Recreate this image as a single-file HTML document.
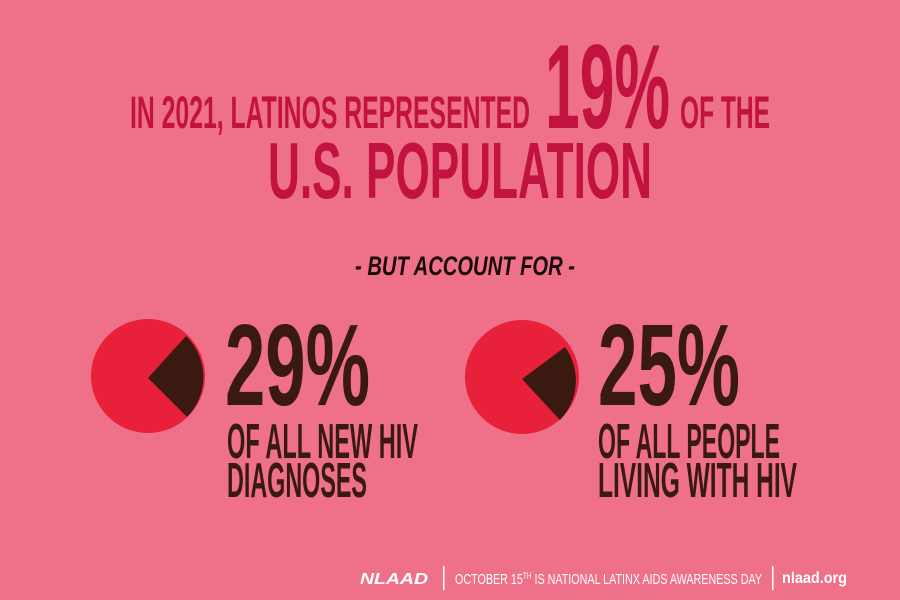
<!DOCTYPE html>
<html><head><meta charset="utf-8"><style>html,body{margin:0;padding:0;background:#ef7089;}svg{display:block}</style></head>
<body>
<svg width="900" height="600" viewBox="0 0 900 600" xmlns="http://www.w3.org/2000/svg">
<rect width="900" height="600" fill="#ef7089"/>
<g font-family="'Liberation Sans Narrow','Liberation Sans',sans-serif" font-weight="bold">
<g fill="#c2123f">
<text x="130" y="128" font-size="45" textLength="400" lengthAdjust="spacingAndGlyphs">IN 2021, LATINOS REPRESENTED</text>
<text x="545" y="128" font-size="120" textLength="125" lengthAdjust="spacingAndGlyphs">19%</text>
<text x="680" y="128" font-size="45" textLength="90" lengthAdjust="spacingAndGlyphs">OF THE</text>
<text x="268" y="198" font-size="80" textLength="384" lengthAdjust="spacingAndGlyphs">U.S. POPULATION</text>
</g>
<text x="355" y="275" font-size="27" font-style="italic" fill="#1a0a0a" textLength="220" lengthAdjust="spacingAndGlyphs">- BUT ACCOUNT FOR -</text>
<g fill="#3a1a10">
<text x="225" y="405" font-size="116" textLength="145" lengthAdjust="spacingAndGlyphs">29%</text>
<text x="227" y="458" font-size="49" textLength="191" lengthAdjust="spacingAndGlyphs">OF ALL NEW HIV</text>
<text x="227" y="497" font-size="49" textLength="140" lengthAdjust="spacingAndGlyphs">DIAGNOSES</text>
<text x="598" y="405" font-size="116" textLength="142" lengthAdjust="spacingAndGlyphs">25%</text>
<text x="598" y="458" font-size="49" textLength="182" lengthAdjust="spacingAndGlyphs">OF ALL PEOPLE</text>
<text x="598" y="497" font-size="49" textLength="199" lengthAdjust="spacingAndGlyphs">LIVING WITH HIV</text>
</g>
</g>
<!-- pies -->
<circle cx="148" cy="376" r="57" fill="#e8203a"/>
<path d="M148 378 L186 336 A57 57 0 0 1 187 417 Z" fill="#3a1a10"/>
<circle cx="522" cy="377" r="57" fill="#e8203a"/>
<path d="M522 379 L565 347 A57 57 0 0 1 560 420 Z" fill="#3a1a10"/>
<!-- footer -->
<g fill="#fff">
<text x="360" y="584" font-family="'Liberation Sans',sans-serif" font-weight="bold" font-style="italic" font-size="16" textLength="68" lengthAdjust="spacingAndGlyphs">NLAAD</text>
<rect x="443" y="566" width="1.5" height="24"/>
<text x="455" y="584" font-family="'Liberation Sans Narrow','Liberation Sans',sans-serif" font-size="15" textLength="307" lengthAdjust="spacingAndGlyphs">OCTOBER 15<tspan font-size="9" dy="-5">TH</tspan><tspan dy="5"> IS NATIONAL LATINX AIDS AWARENESS DAY</tspan></text>
<rect x="772" y="566" width="1.5" height="24"/>
<text x="782" y="583" font-family="'Liberation Sans',sans-serif" font-weight="bold" font-size="16" textLength="65" lengthAdjust="spacingAndGlyphs">nlaad.org</text>
</g>
</svg>
</body></html>
